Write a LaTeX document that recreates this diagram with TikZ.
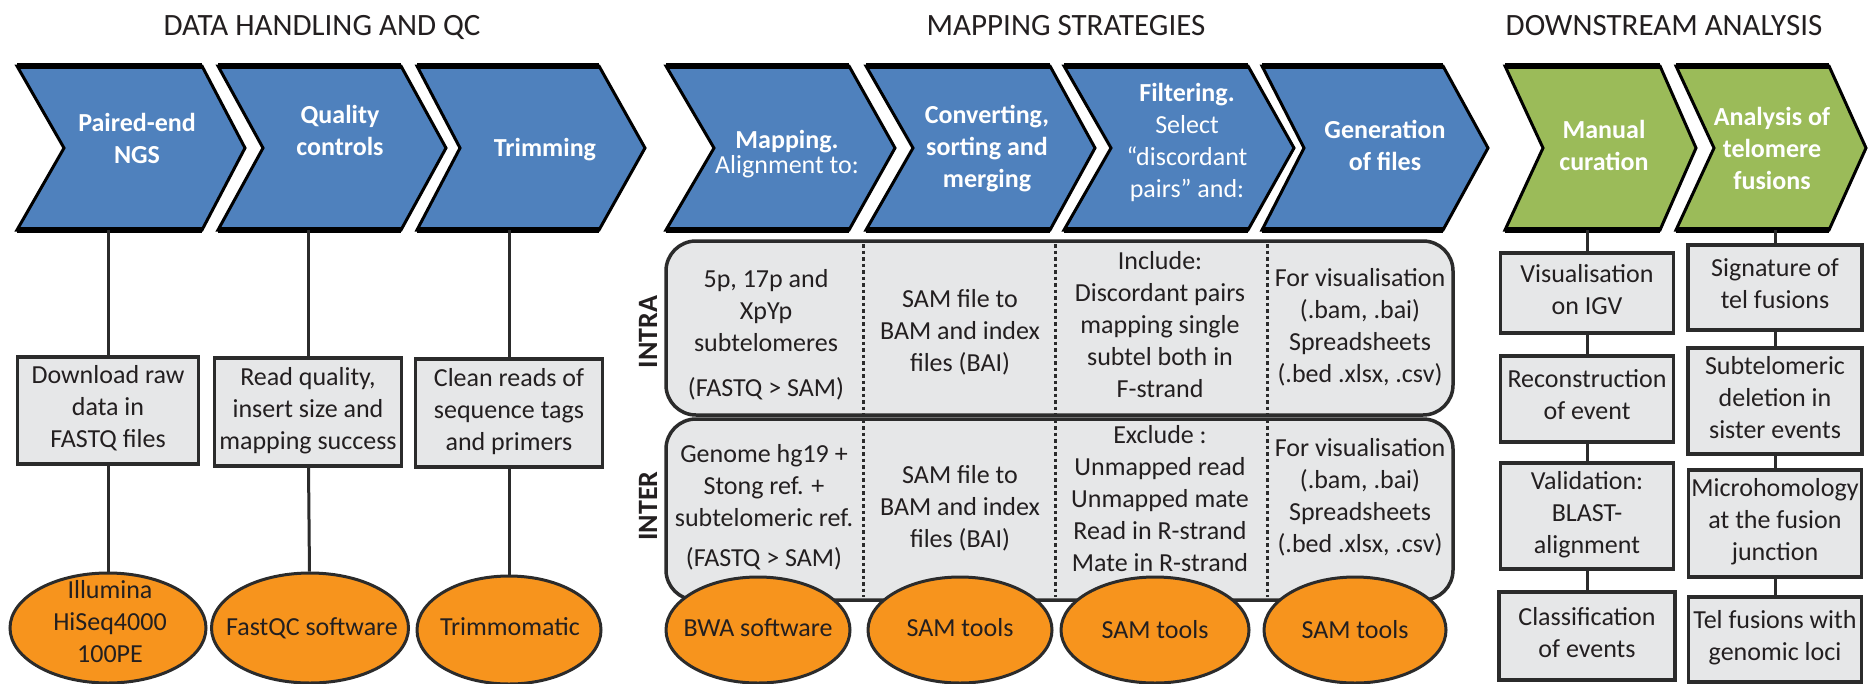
\documentclass[tikz,border=0pt]{standalone}
\usepackage{fontspec}
\setmainfont{Carlito}
\usetikzlibrary{shapes.geometric}
\definecolor{chblue}{HTML}{4F81BD}
\definecolor{chgreen}{HTML}{9BBB59}
\definecolor{ellorange}{HTML}{F7941D}
\definecolor{boxgray}{HTML}{E6E7E8}
\definecolor{ink}{HTML}{231F20}
\definecolor{edgec}{HTML}{2B2B2B}
\newcommand\lnstrut{\rule[-8pt]{0pt}{32pt}}
% #1 top-left x, #2 top-right x, #3 point x, #4 notch x, #5 fill colour
\newcommand\drawchev[5]{%
  \filldraw[fill=#5, draw=black, line width=3pt, line join=miter]
    (#1,66) -- (#2,66) -- (#3,148) -- (#2,230) -- (#1,230) -- (#4,148) -- cycle;
  \draw[black, line width=5.5pt] (#1,66) -- (#2,66) (#1,230) -- (#2,230);
}
\begin{document}
\begin{tikzpicture}[x=1pt,y=-1pt,
  txt/.style={font=\fontsize{26}{32}\selectfont, align=center, inner sep=0pt, text=ink,
    execute at begin node=\lnstrut, execute at end node=\lnstrut},
  wtxt/.style={txt, text=white},
  wbtxt/.style={txt, text=white, font=\fontsize{26}{32}\selectfont\bfseries},
  gbox/.style={txt, draw=edgec, line width=3.5pt, fill=boxgray},
  ell/.style={ellipse, draw=edgec, line width=3pt, fill=ellorange, inner sep=0pt},
  rbox/.style={draw=edgec, line width=3.5pt, fill=boxgray, rounded corners=30pt, inner sep=0pt},
  conn/.style={draw=edgec, line width=3pt},
  divider/.style={draw=edgec, line width=3pt, dash pattern=on 3.5pt off 3pt},
  title/.style={font=\fontsize{31}{37}\selectfont, anchor=base, inner sep=0pt, text=ink},
  side/.style={font=\fontsize{28}{32}\selectfont\bfseries, rotate=90, inner sep=0pt, text=ink}
]
\useasboundingbox (0,0) rectangle (1870,683);
\fill[white] (0,0) rectangle (1870,683);

% titles
\node[title] (h1) at (322,35) {DATA HANDLING AND QC};
\node[title] (h2) at (1066,35) {MAPPING STRATEGIES};
\node[title] (h3) at (1664,35) {DOWNSTREAM ANALYSIS};

% chevrons
\drawchev{17}{202}{245}{64}{chblue}
\drawchev{218}{401}{446}{263}{chblue}
\drawchev{417}{599}{645}{460}{chblue}
\drawchev{666}{849}{895}{714}{chblue}
\drawchev{866}{1050}{1095}{913}{chblue}
\drawchev{1064}{1248}{1294}{1111}{chblue}
\drawchev{1262}{1443}{1488}{1304}{chblue}
\drawchev{1505}{1660}{1696}{1543}{chgreen}
\drawchev{1676}{1829}{1866}{1714}{chgreen}

\node[wbtxt] (t1) at (137,142.5) {Paired-end\\NGS};
\node[wbtxt] (t2) at (340,134) {Quality\\controls};
\node[wbtxt] (t3) at (545,148) {Trimming};
\node[wtxt]  (t4) at (787,155.5) {\textbf{Mapping.}\\[-7pt]Alignment to:};
\node[wbtxt] (t5) at (987,150) {Converting,\\sorting and\\merging};
\node[wtxt]  (t6) at (1187,144.5) {\textbf{Filtering.}\\Select\\“discordant\\pairs” and:};
\node[wbtxt] (t7) at (1385,149) {Generation\\of files};
\node[wbtxt] (t8) at (1604,149.5) {Manual\\curation};
\node[wbtxt] (t9) at (1772,152) {Analysis of\\telomere\\fusions};

\coordinate (s1) at (108,230);
\coordinate (s2) at (308,230);
\coordinate (s3) at (509,230);
\coordinate (s8) at (1587,230);
\coordinate (s9) at (1775,230);

% data handling boxes
\node[gbox, minimum width=181pt, minimum height=107pt] (b1) at (108,410.5) {Download raw\\data in\\FASTQ files};
\node[gbox, minimum width=187pt, minimum height=108pt] (b2) at (308,412) {Read quality,\\insert size and\\mapping success};
\node[gbox, minimum width=187pt, minimum height=108pt] (b3) at (509,413) {Clean reads of\\sequence tags\\and primers};

% mapping boxes
\node[rbox, minimum width=787pt, minimum height=174pt] (intra) at (1059.5,328) {};
\node[rbox, minimum width=787pt, minimum height=181pt] (inter) at (1059.5,509.5) {};
\draw[divider] (863,244) -- (863,597);
\draw[divider] (1055,244) -- (1055,597);
\draw[divider] (1267,244) -- (1267,597);
\node[side] (lintra) at (648,332) {INTRA};
\node[side] (linter) at (648,506) {INTER};

\node[txt] (a1) at (766,337) {5p, 17p and\\XpYp\\subtelomeres\\[13pt](FASTQ > SAM)};
\node[txt] (a2) at (960,334) {SAM file to\\BAM and index\\files (BAI)};
\node[txt] (a3) at (1160,328) {Include:\\Discordant pairs\\mapping single\\subtel both in\\F-strand};
\node[txt] (a4) at (1360,329) {For visualisation\\(.bam, .bai)\\Spreadsheets\\(.bed .xlsx, .csv)};
\node[txt] (r1) at (764,509) {Genome hg19 +\\Stong ref. +\\subtelomeric ref.\\[8pt](FASTQ > SAM)};
\node[txt] (r2) at (960,510) {SAM file to\\BAM and index\\files (BAI)};
\node[txt] (r3) at (1160,502) {Exclude :\\Unmapped read\\Unmapped mate\\Read in R-strand\\Mate in R-strand};
\node[txt] (r4) at (1360,499) {For visualisation\\(.bam, .bai)\\Spreadsheets\\(.bed .xlsx, .csv)};

% ellipses
\node[ell, minimum width=196pt, minimum height=110pt] (e1) at (108,628) {};
\node[ell, minimum width=197pt, minimum height=110pt] (e2) at (310,628) {};
\node[ell, minimum width=184pt, minimum height=108pt] (e3) at (509,630) {};
\node[ell, minimum width=184pt, minimum height=106pt] (e4) at (758,630) {};
\node[ell, minimum width=184pt, minimum height=106pt] (e5) at (960,630) {};
\node[ell, minimum width=188pt, minimum height=106pt] (e6) at (1155,630) {};
\node[ell, minimum width=182pt, minimum height=106pt] (e7) at (1355,630) {};
\node[txt] (e1t) at (110,625) {Illumina\\HiSeq4000\\100PE};
\node[txt] (e2t) at (312,627) {FastQC software};
\node[txt] (e3t) at (510,627) {Trimmomatic};
\node[txt] (e4t) at (758,628) {BWA software};
\node[txt] (e5t) at (960,628) {SAM tools};
\node[txt] (e6t) at (1155,630) {SAM tools};
\node[txt] (e7t) at (1355,630) {SAM tools};

% downstream boxes
\node[gbox, minimum width=173pt, minimum height=80pt]  (vis) at (1587,293) {Visualisation\\on IGV};
\node[gbox, minimum width=173pt, minimum height=86pt]  (rec) at (1587,399) {Reconstruction\\of event};
\node[gbox, minimum width=173pt, minimum height=106pt] (val) at (1587,516) {Validation:\\BLAST-\\alignment};
\node[gbox, minimum width=176pt, minimum height=88pt]  (cls) at (1587,636) {Classification\\of events};
\node[gbox, minimum width=174pt, minimum height=85pt]  (sig) at (1775,287.5) {Signature of\\tel fusions};
\node[gbox, minimum width=174pt, minimum height=106pt] (sub) at (1775,401) {Subtelomeric\\deletion in\\sister events};
\node[gbox, minimum width=173pt, minimum height=107pt] (mic) at (1775,523.5) {Microhomology\\at the fusion\\junction};
\node[gbox, minimum width=173pt, minimum height=85pt]  (tel) at (1775,639.5) {Tel fusions with\\genomic loci};

% connectors
\draw[conn] (s1) -- (b1);
\draw[conn] (b1) -- (e1);
\draw[conn] (s2) -- (b2);
\draw[conn] (b2) -- (e2);
\draw[conn] (s3) -- (b3);
\draw[conn] (b3) -- (e3);
\draw[conn] (s8) -- (vis);
\draw[conn] (vis) -- (rec);
\draw[conn] (rec) -- (val);
\draw[conn] (val) -- (cls);
\draw[conn] (s9) -- (sig);
\draw[conn] (sig) -- (sub);
\draw[conn] (sub) -- (mic);
\draw[conn] (mic) -- (tel);
\end{tikzpicture}
\end{document}
